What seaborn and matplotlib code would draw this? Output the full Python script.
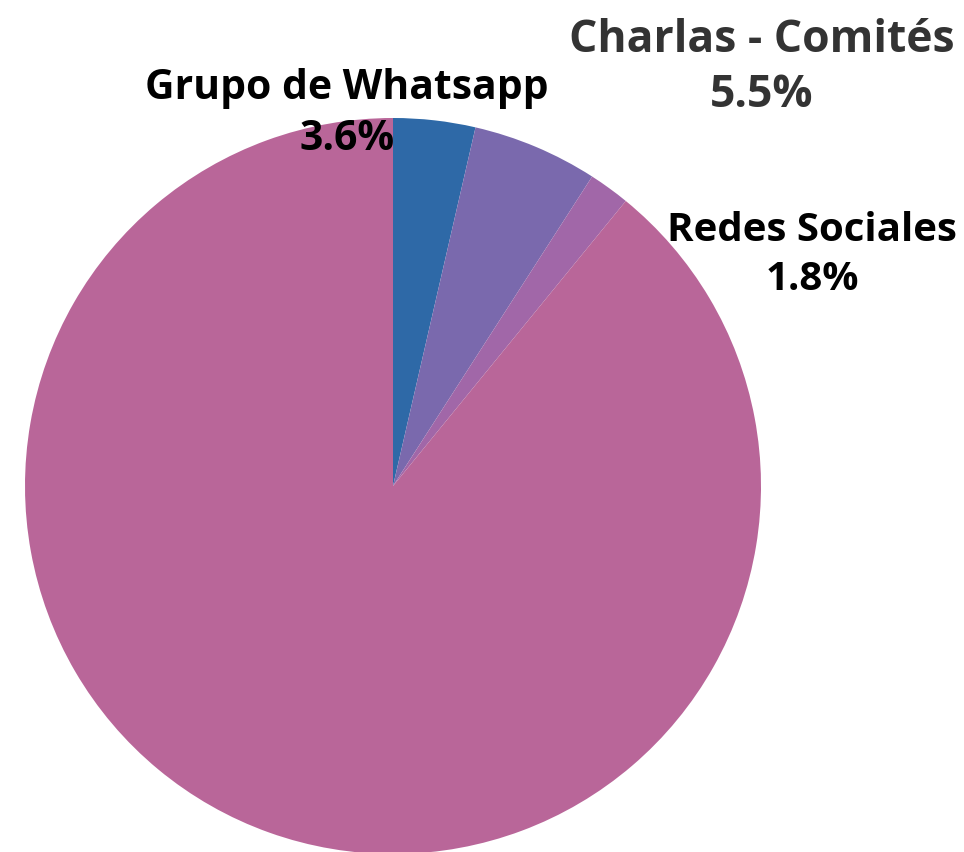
import matplotlib
matplotlib.use("Agg")
import matplotlib.pyplot as plt
import seaborn as sns

categories = ["Grupo de Whatsapp", "Charlas - Comités", "Redes Sociales", "Otros"]
values = [3.6, 5.5, 1.8, 89.1]
colors = ["#2E69A7", "#7A69AD", "#A167A8", "#B96699"]
label_colors = ["#000000", "#333333", "#000000", None]

sns.set_theme(style="white")
plt.rcParams['font.family'] = ['Open Sans', 'DejaVu Sans']

W, H = 964, 852
fig = plt.figure(figsize=(W / 100, H / 100), dpi=100)
ax = fig.add_axes([0, 0, 1, 1])

cx, cy, r = 393, H - 486, 368
ax.pie(values, colors=colors, startangle=90, counterclock=False,
       center=(cx, cy), radius=r, frame=True,
       wedgeprops=dict(linewidth=0))
ax.set_xlim(0, W)
ax.set_ylim(0, H)
ax.axis("off")

label_pos = [(347, H - 114), (762, H - 68), (812, H - 255)]
label_sizes = [29.4, 32, 29]
label_spacing = [1.34, 1.28, 1.31]
for i, (x, y) in enumerate(label_pos):
    ax.text(x, y, f"{categories[i]}\n{values[i]:.1f}%", ha="center", va="center",
            fontsize=label_sizes[i], fontweight="bold", color=label_colors[i],
            linespacing=label_spacing[i])

fig.savefig("out.png", dpi=100)
